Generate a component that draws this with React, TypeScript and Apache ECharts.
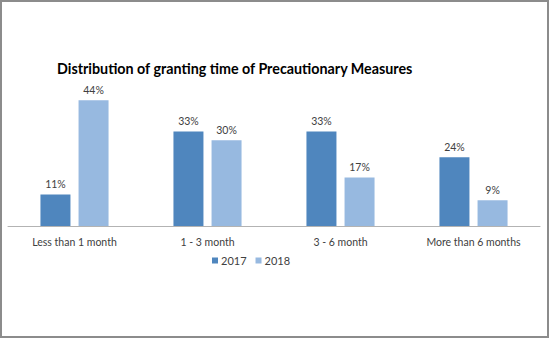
import React, { useEffect, useRef } from "react";
import * as echarts from "echarts";

const categories = ["Less than 1 month", "1 - 3 month", "3 - 6 month", "More than 6 months"];
const series2017 = [11, 33, 33, 24];
const series2018 = [44, 30, 17, 9];
const seriesNames = ["2017", "2018"];

const FONT = "Lato, 'Open Sans', sans-serif";

export default function App() {
  const ref = useRef<HTMLDivElement>(null);
  useEffect(() => {
    const chart = echarts.init(ref.current!, null, { renderer: "svg" });
    const label = {
      show: true,
      position: "top",
      distance: 5,
      formatter: "{c}%",
      color: "#404040",
      fontSize: 10.5,
      fontFamily: FONT,
    };
    chart.setOption({
      animation: false,
      backgroundColor: "#ffffff",
      title: {
        text: "Distribution of granting time of Precautionary Measures",
        left: 57,
        top: 61,
        padding: 0,
        textStyle: { fontSize: 14.3, fontWeight: "bold", color: "#000000", fontFamily: FONT },
      },
      legend: {
        data: seriesNames,
        left: 212,
        top: 255,
        icon: "rect",
        itemWidth: 6,
        itemHeight: 6,
        itemGap: 9,
        padding: 0,
        textStyle: { fontSize: 11, color: "#404040", fontFamily: FONT, padding: [0, 0, 0, -2] },
      },
      grid: { left: 8, right: 10, top: 83, bottom: 113, containLabel: false },
      xAxis: {
        type: "category",
        data: categories,
        axisLine: { lineStyle: { color: "#b3b3b3", width: 1 } },
        axisTick: { show: false },
        axisLabel: { color: "#404040", fontSize: 10.5, fontFamily: FONT, margin: 10, interval: 0 },
      },
      yAxis: {
        type: "value",
        min: 0,
        max: 50,
        show: false,
        splitLine: { show: false },
      },
      series: [
        {
          name: seriesNames[0],
          type: "bar",
          data: series2017,
          barWidth: 30,
          barGap: "27%",
          itemStyle: { color: "#4f86be" },
          label,
        },
        {
          name: seriesNames[1],
          type: "bar",
          data: series2018,
          barWidth: 30,
          itemStyle: { color: "#97b9e0" },
          label,
        },
      ],
      graphic: [
        {
          type: "rect",
          shape: { x: 1, y: 1, width: 547, height: 336 },
          style: { fill: "none", stroke: "#8c8c8c", lineWidth: 2 },
          silent: true,
        },
      ],
    });
    return () => chart.dispose();
  }, []);
  return (
    <div
      ref={ref}
      style={{ position: "fixed", left: 0, top: 0, width: 550, height: 339 }}
    />
  );
}
